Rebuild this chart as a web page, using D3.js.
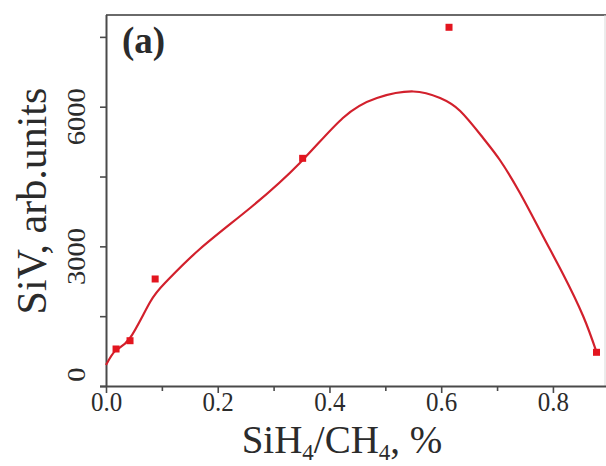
<!DOCTYPE html>
<html>
<head>
<meta charset="utf-8">
<script src="https://cdn.jsdelivr.net/npm/d3@7"></script>
<style>
  html, body { margin: 0; padding: 0; background: #fff; }
  svg { display: block; }
  text { font-family: "Liberation Serif", "Times New Roman", serif; fill: #2b2b2b; }
</style>
</head>
<body>
<svg id="chart" width="606" height="466"></svg>
<script>
// Measured SiV intensity vs. silane fraction
const ratioValues = [0.018, 0.043, 0.088, 0.352, 0.614, 0.878];
const sivValues   = [795, 973, 2299, 4891, 7706, 724];

// Smooth fit curve through the measurements
const fitRatio = [0.000, 0.018, 0.043, 0.079, 0.109, 0.168, 0.258, 0.347, 0.424, 0.485, 0.550, 0.598, 0.634, 0.675, 0.705, 0.741, 0.782, 0.818, 0.854, 0.878];
const fitSiv   = [451, 773, 1031, 1805, 2256, 2943, 3824, 4791, 5757, 6187, 6327, 6187, 5908, 5328, 4855, 4146, 3222, 2406, 1504, 730];

// Axis ticks
const xMajorTicks = [0, 0.2, 0.4, 0.6, 0.8];
const xMinorTicks = [0.1, 0.3, 0.5, 0.7];
const yMajorTicks = [0, 3000, 6000];
const yMinorTicks = [1500, 4500, 7500];

const svg = d3.select("#chart");
const plotLeft = 106, plotRight = 606, plotTop = 15, plotBottom = 386;
const tickStretch = 1.12;

const x = d3.scaleLinear().domain([0, 0.895]).range([plotLeft, plotRight]);
const y = d3.scaleLinear().domain([0, 7970]).range([plotBottom, plotTop]);

const axisColor = "#4a4a4a";

// frame top line and faint right edge
svg.append("line").attr("x1", plotLeft).attr("x2", plotRight).attr("y1", plotTop).attr("y2", plotTop)
  .attr("stroke", "#6a6a6a").attr("stroke-width", 2);
svg.append("line").attr("x1", 605).attr("x2", 605).attr("y1", plotTop).attr("y2", plotBottom)
  .attr("stroke", "#d8d8d8").attr("stroke-width", 1);

// x axis
const xAxisG = svg.append("g").attr("transform", `translate(0,${plotBottom})`)
  .call(d3.axisBottom(x).tickValues(xMajorTicks).tickSize(7).tickSizeOuter(0).tickFormat(d3.format(".1f")));
svg.append("g").attr("transform", `translate(0,${plotBottom})`)
  .call(d3.axisBottom(x).tickValues(xMinorTicks).tickSize(5).tickSizeOuter(0).tickFormat(""))
  .call(g => g.select(".domain").remove());

// y axis
const yAxisG = svg.append("g").attr("transform", `translate(${plotLeft},0)`)
  .call(d3.axisLeft(y).tickValues(yMajorTicks).tickSize(6).tickSizeOuter(0).tickFormat(d3.format("d")));
svg.append("g").attr("transform", `translate(${plotLeft},0)`)
  .call(d3.axisLeft(y).tickValues(yMinorTicks).tickSize(6).tickSizeOuter(0).tickFormat(""))
  .call(g => g.select(".domain").remove());

// axis styling
svg.selectAll(".domain").attr("stroke", axisColor).attr("stroke-width", 2);
svg.selectAll(".tick line").attr("stroke", axisColor).attr("stroke-width", 1.6);
xAxisG.select(".domain").attr("d", `M${plotLeft - 6},0.5H${plotRight}`);
yAxisG.select(".domain").attr("d", `M0.5,${plotTop}V${plotBottom + 1}`);

// x tick labels
xAxisG.selectAll(".tick text")
  .attr("y", null).attr("dy", null)
  .attr("font-size", 25)
  .attr("text-anchor", "middle")
  .attr("transform", `translate(0,25) scale(1,${tickStretch})`);

// y tick labels, rotated
yAxisG.selectAll(".tick text")
  .attr("x", null).attr("dy", null).attr("y", null)
  .attr("font-size", 25.5)
  .attr("text-anchor", "end")
  .attr("transform", `translate(-21,-19) scale(1,${tickStretch}) rotate(-90)`);

// fit curve
const line = d3.line()
  .x((d, i) => x(fitRatio[i]))
  .y((d, i) => y(fitSiv[i]))
  .curve(d3.curveNatural);
svg.append("path")
  .datum(fitRatio)
  .attr("d", line)
  .attr("fill", "none")
  .attr("stroke", "#d2202c")
  .attr("stroke-width", 2.2);

// measured points
const sq = 7;
svg.append("g").selectAll("rect")
  .data(ratioValues)
  .join("rect")
  .attr("x", (d) => x(d) - sq / 2)
  .attr("y", (d, i) => y(sivValues[i]) - sq / 2)
  .attr("width", sq).attr("height", sq)
  .attr("fill", "#e3151f");

// panel label
svg.append("text")
  .attr("x", 122).attr("y", 53)
  .attr("font-size", 37).attr("font-weight", "bold")
  .text("(a)");

// y axis title
svg.append("text")
  .attr("transform", "translate(46,201) rotate(-90)")
  .attr("text-anchor", "middle")
  .attr("font-size", 42)
  .text("SiV, arb.units");

// x axis title with subscripts
const xt = svg.append("text")
  .attr("x", 342).attr("y", 453)
  .attr("text-anchor", "middle")
  .attr("font-size", 39);
xt.append("tspan").text("SiH");
xt.append("tspan").attr("font-size", 23).attr("dy", 7).text("4");
xt.append("tspan").attr("dy", -7).text("/CH");
xt.append("tspan").attr("font-size", 23).attr("dy", 7).text("4");
xt.append("tspan").attr("dy", -7).text(", %");
</script>
</body>
</html>
